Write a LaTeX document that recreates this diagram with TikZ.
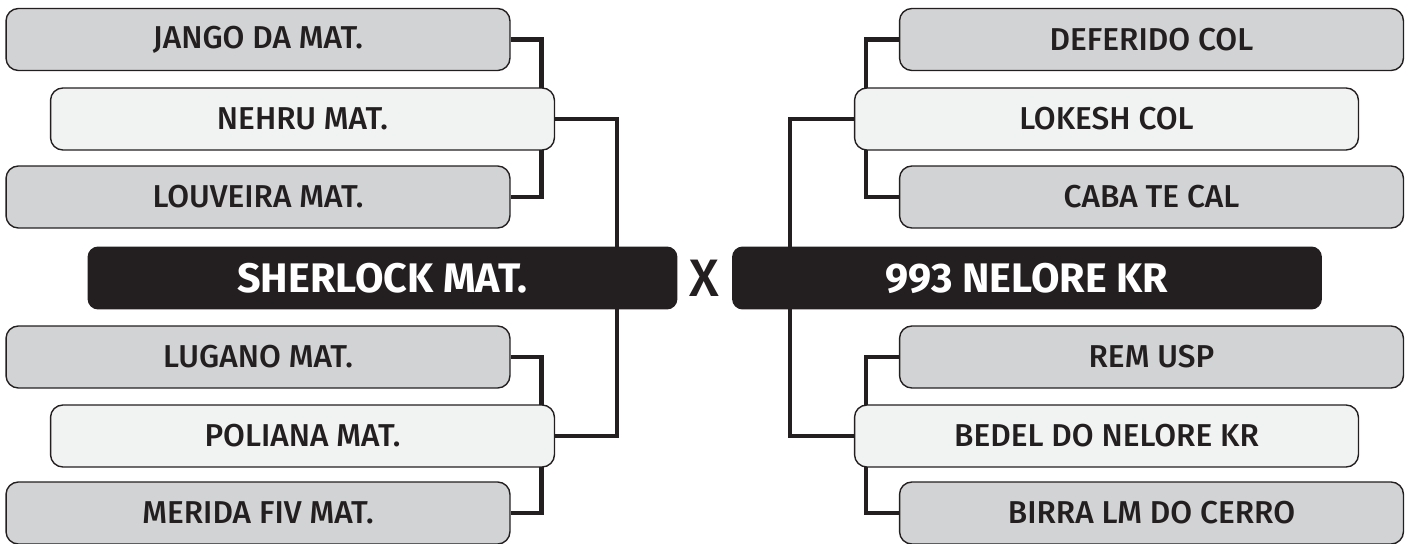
\documentclass[tikz,border=0pt]{standalone}
\usepackage{xcolor}
\usepackage{fontspec}
\setmainfont{Fira Sans}[UprightFont=* Medium, BoldFont=* Bold]
\usepackage{tikz}
\usetikzlibrary{backgrounds}

\definecolor{abu}{HTML}{D1D3D4}
\definecolor{abumuda}{HTML}{F1F2F2}
\definecolor{hitam}{HTML}{231F20}

\begin{document}
\begin{tikzpicture}[
    x=0.02cm, y=-0.02cm,
    peserta/.style={draw=hitam, line width=0.8pt, rounded corners=7pt, minimum width=10.08cm,
                    minimum height=1.24cm, inner sep=0pt, text=hitam,
                    font=\fontsize{18}{18}\selectfont},
    gelap/.style={peserta, fill=abu},
    terang/.style={peserta, fill=abumuda},
    juara/.style={fill=hitam, rounded corners=6pt, minimum width=11.8cm, minimum height=1.26cm,
                  inner sep=0pt, text=white, font=\fontsize{23.5}{23.5}\selectfont\bfseries},
    garis/.style={draw=hitam, line width=2.6pt}
  ]
    \useasboundingbox (0,0) rectangle (1410,544);
    % kiri
    \node[gelap] (jango) at (258,39.5) {JANGO DA MAT.};
    \node[terang] (nehru) at (302.5,119) {NEHRU MAT.};
    \node[gelap] (louveira) at (258,197) {LOUVEIRA MAT.};
    \node[juara] (sherlock) at (382.5,278) {SHERLOCK MAT.};
    \node[gelap] (lugano) at (258,357) {LUGANO MAT.};
    \node[terang] (poliana) at (302.5,436) {POLIANA MAT.};
    \node[gelap] (merida) at (258,513) {MERIDA FIV MAT.};
    % kanan
    \node[gelap] (deferido) at (1151.5,39.5) {DEFERIDO COL};
    \node[terang] (lokesh) at (1106.5,119) {LOKESH COL};
    \node[gelap] (caba) at (1151.5,197) {CABA TE CAL};
    \node[juara] (nelore) at (1027,278) {993 NELORE KR};
    \node[gelap] (rem) at (1151.5,357) {REM USP};
    \node[terang] (bedel) at (1106.5,436) {BEDEL DO NELORE KR};
    \node[gelap] (birra) at (1151.5,513) {BIRRA LM DO CERRO};
    \node[text=hitam, font=\fontsize{30}{30}\selectfont] (versus) at (704,278) {X};
    \begin{scope}[on background layer]
      \draw[garis] (jango.east) -- ++(31,0) |- (louveira.east);
      \draw[garis] (lugano.east) -- ++(31,0) |- (merida.east);
      \draw[garis] (nehru.east) -- ++(62,0) |- (poliana.east);
      \draw[garis] (deferido.west) -- ++(-33,0) |- (caba.west);
      \draw[garis] (rem.west) -- ++(-33,0) |- (birra.west);
      \draw[garis] (lokesh.west) -- ++(-64,0) |- (bedel.west);
    \end{scope}
  \end{tikzpicture}
\end{document}
